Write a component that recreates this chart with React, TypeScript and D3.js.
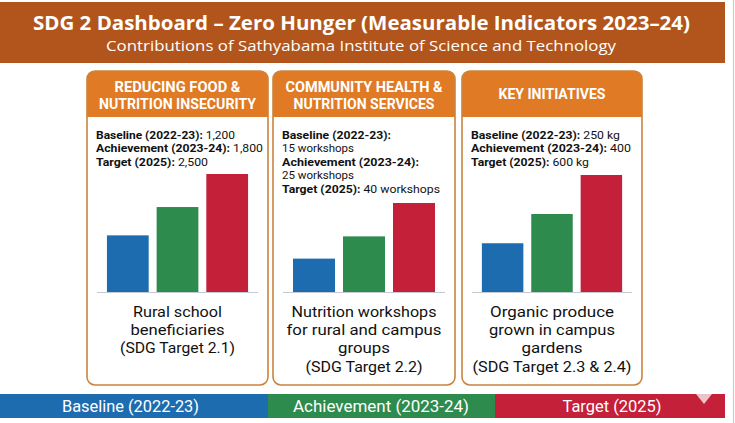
import React from "react";
import * as d3 from "d3";

const seriesNames = ["Baseline (2022-23)", "Achievement (2023-24)", "Target (2025)"];
const seriesColors = ["#1d6cb0", "#2e8b4e", "#c4203a"];

const titleText = "SDG 2 Dashboard \u2013 Zero Hunger (Measurable Indicators 2023\u201324)";
const subtitleText = "Contributions of Sathyabama Institute of Science and Technology";

const panelTitles = [
  ["REDUCING FOOD &", "NUTRITION INSECURITY"],
  ["COMMUNITY HEALTH &", "NUTRITION SERVICES"],
  ["KEY INITIATIVES"],
];

const beneficiaryValues = [1200, 1800, 2500];
const workshopValues = [15, 25, 40];
const produceValues = [250, 400, 600];

const beneficiaryInfo = [
  ["Baseline (2022-23):", " 1,200"],
  ["Achievement (2023-24):", " 1,800"],
  ["Target (2025):", " 2,500"],
];
const workshopInfo = [
  ["Baseline (2022-23):", ""],
  ["", "15 workshops"],
  ["Achievement (2023-24):", ""],
  ["", "25 workshops"],
  ["Target (2025):", " 40 workshops"],
];
const produceInfo = [
  ["Baseline (2022-23):", " 250 kg"],
  ["Achievement (2023-24):", " 400"],
  ["Target (2025):", " 600 kg"],
];

const beneficiaryCaption = ["Rural school", "beneficiaries", "(SDG Target 2.1)"];
const workshopCaption = ["Nutrition workshops", "for rural and campus", "groups", "(SDG Target 2.2)"];
const produceCaption = ["Organic produce", "grown in campus", "gardens", "(SDG Target 2.3 & 2.4)"];

const W = 735;
const H = 423;
const FONT = "'Open Sans', 'Noto Sans', sans-serif";
const BODY_FONT = "Roboto, 'Open Sans', sans-serif";

// layout per panel (pixel geometry, not data)
const panelLayout = [
  { x: 87, w: 181, chartTop: 174, titleLens: [126, 157], infoLens: [139, 167, 112], capLens: [89, 94, 115] },
  { x: 273, w: 182, chartTop: 203, titleLens: [157, 141], infoLens: [109, 72, 137, 72, 158], capLens: [145, 155, 52, 117] },
  { x: 462, w: 180, chartTop: 175, titleLens: [107], infoLens: [149, 160, 118], capLens: [124, 126, 61, 159] },
];

const panelValues = [beneficiaryValues, workshopValues, produceValues];
const panelInfo = [beneficiaryInfo, workshopInfo, produceInfo];
const panelCaptions = [beneficiaryCaption, workshopCaption, produceCaption];

const PANEL_TOP = 71;
const HEADER_BOTTOM = 117;
const PANEL_BOTTOM = 385;
const BASE_Y = 292;

function topRoundedPath(x: number, y: number, w: number, h: number, r: number) {
  return `M${x},${y + h} L${x},${y + r} Q${x},${y} ${x + r},${y} L${x + w - r},${y} Q${x + w},${y} ${x + w},${y + r} L${x + w},${y + h} Z`;
}

function Panel({ idx }: { idx: number }) {
  const L = panelLayout[idx];
  const values = panelValues[idx];
  const info = panelInfo[idx];
  const caption = panelCaptions[idx];
  const titles = panelTitles[idx];
  const cx = L.x + L.w / 2;

  const xScale = d3
    .scaleBand<string>()
    .domain(seriesNames)
    .range([L.x + 10, L.x + L.w - 10])
    .paddingInner(0.16)
    .paddingOuter(0.2);
  const yScale = d3
    .scaleLinear()
    .domain([0, d3.max(values) as number])
    .range([BASE_Y, L.chartTop]);

  const titleYs = titles.length === 2 ? [91.5, 108.5] : [99];

  return (
    <g>
      <rect x={L.x} y={PANEL_TOP} width={L.w} height={PANEL_BOTTOM - PANEL_TOP} rx={8} fill="#ffffff" />
      <path d={topRoundedPath(L.x, PANEL_TOP, L.w, HEADER_BOTTOM - PANEL_TOP, 8)} fill="#e07a24" />
      <rect x={L.x} y={PANEL_TOP} width={L.w} height={PANEL_BOTTOM - PANEL_TOP} rx={8} fill="none" stroke="#c9843f" strokeWidth={1.6} />
      {titles.map((t, i) => (
        <text
          key={i}
          x={cx}
          y={titleYs[i]}
          textAnchor="middle"
          fill="#ffffff"
          fontFamily={BODY_FONT}
          fontWeight={700}
          fontSize={14}
          textLength={L.titleLens[i]}
          lengthAdjust="spacingAndGlyphs"
        >
          {t}
        </text>
      ))}
      {info.map((row, i) => (
        <text
          key={i}
          x={L.x + 9}
          y={138.5 + i * 13.5}
          fill="#111111"
          fontFamily={BODY_FONT}
          fontSize={11.5}
          textLength={L.infoLens[i]}
          lengthAdjust="spacingAndGlyphs"
        >
          {row[0] && <tspan fontWeight={700}>{row[0]}</tspan>}
          {row[1] && <tspan fontWeight={400}>{row[1]}</tspan>}
        </text>
      ))}
      {values.map((v, i) => (
        <rect
          key={i}
          x={xScale(seriesNames[i])}
          y={yScale(v)}
          width={xScale.bandwidth()}
          height={BASE_Y - yScale(v)}
          fill={seriesColors[i]}
        />
      ))}
      <line
        x1={xScale.range()[0]}
        x2={xScale.range()[1]}
        y1={BASE_Y + 0.5}
        y2={BASE_Y + 0.5}
        stroke="#c5c9d2"
        strokeWidth={1}
      />
      {caption.map((c, i) => (
        <text
          key={i}
          x={cx}
          y={317 + i * 18.2}
          textAnchor="middle"
          fill="#111111"
          fontFamily={BODY_FONT}
          fontSize={15.5}
          textLength={L.capLens[i]}
          lengthAdjust="spacingAndGlyphs"
        >
          {c}
        </text>
      ))}
    </g>
  );
}

const footerSegments = [
  { x0: 0, x1: 268, len: 137 },
  { x0: 268, x1: 495, len: 176 },
  { x0: 495, x1: 725, len: 99 },
];

export default function App() {
  const footerTop = 394;
  const footerBottom = 418;
  return (
    <svg
      width={W}
      height={H}
      viewBox={`0 0 ${W} ${H}`}
      style={{ position: "absolute", left: 0, top: 0, background: "#ffffff" }}
    >
      <rect x={0} y={0} width={W} height={H} fill="#ffffff" />
      <line x1={733.5} x2={733.5} y1={0} y2={H} stroke="#c9cdd6" strokeWidth={1.2} />
      {/* header */}
      <rect x={0} y={2} width={725} height={61} fill="#b1551d" />
      <text
        x={361.5}
        y={29.5}
        textAnchor="middle"
        fill="#ffffff"
        fontFamily={FONT}
        fontWeight={700}
        fontSize={20}
        textLength={657}
        lengthAdjust="spacingAndGlyphs"
      >
        {titleText}
      </text>
      <text
        x={361}
        y={51}
        textAnchor="middle"
        fill="#ffffff"
        fontFamily={FONT}
        fontSize={14.5}
        textLength={510}
        lengthAdjust="spacingAndGlyphs"
      >
        {subtitleText}
      </text>
      {panelLayout.map((_, i) => (
        <Panel key={i} idx={i} />
      ))}
      {/* footer legend */}
      {footerSegments.map((s, i) => (
        <g key={i}>
          <rect x={s.x0} y={footerTop} width={s.x1 - s.x0} height={footerBottom - footerTop} fill={seriesColors[i]} />
          <text
            x={(s.x0 + s.x1) / 2 + (i === 0 ? -3.5 : i === 1 ? -0.5 : 2)}
            y={412}
            textAnchor="middle"
            fill="#ffffff"
            fontFamily={BODY_FONT}
            fontSize={16}
            textLength={s.len}
            lengthAdjust="spacingAndGlyphs"
          >
            {seriesNames[i]}
          </text>
        </g>
      ))}
      <path d={`M696,${footerTop} L712,${footerTop} L704,${footerTop + 10} Z`} fill="#eec3c9" />
    </svg>
  );
}
